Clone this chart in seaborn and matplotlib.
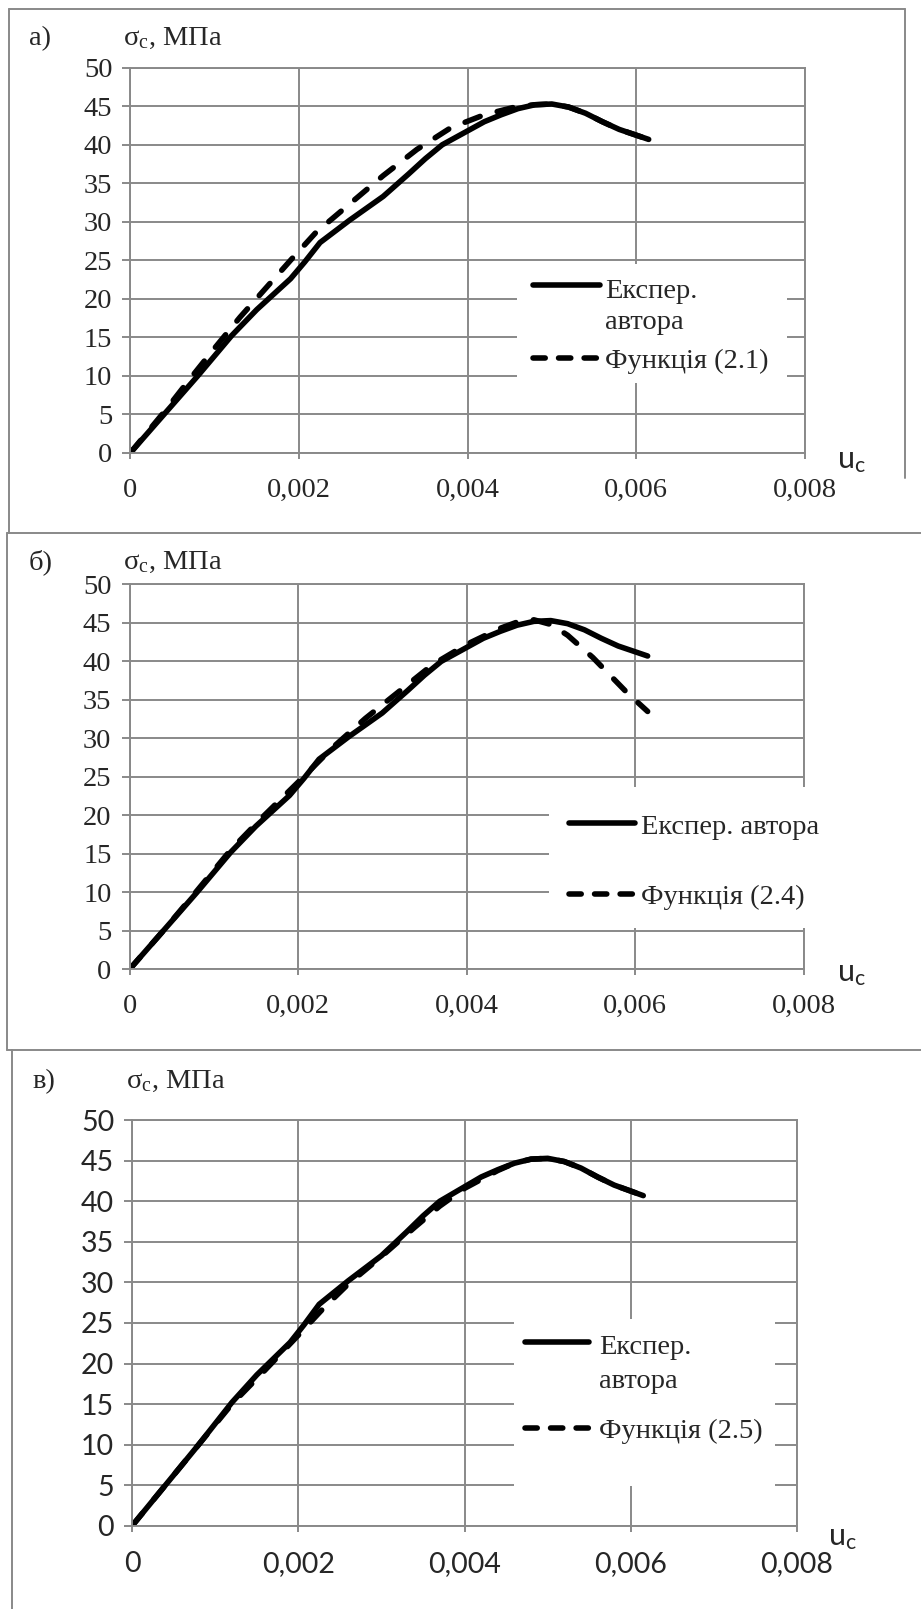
import matplotlib
matplotlib.use("Agg")
import matplotlib.pyplot as plt
from matplotlib.lines import Line2D
from matplotlib.patches import Rectangle
import seaborn as sns
import pandas as pd

sns.set_theme(style="white")
plt.rcParams['font.family'] = ['Liberation Serif', 'DejaVu Serif']

# Experimental stress-strain curve (same test in every panel)
strain_exp = [0, 0.0004, 0.0008, 0.0012, 0.0015, 0.0019, 0.00207, 0.00225, 0.0026, 0.0030,
              0.0033, 0.0035, 0.0037, 0.0040, 0.0042, 0.0044, 0.0046, 0.0048, 0.0050, 0.0052,
              0.0054, 0.0056, 0.0058, 0.00615]
stress_exp = [0, 5.0, 10.0, 15.2, 18.6, 22.6, 24.8, 27.3, 30.2, 33.3,
              36.2, 38.2, 40.0, 41.8, 43.0, 43.9, 44.7, 45.2, 45.3, 44.9,
              44.1, 43.0, 42.0, 40.7]

# Function (2.1)
strain_f21 = [0, 0.0004, 0.0007, 0.0010, 0.0013, 0.0016, 0.0019, 0.0022, 0.0026, 0.0030,
              0.0034, 0.0038, 0.0042, 0.0046, 0.0048, 0.0050, 0.0052, 0.0054, 0.0056, 0.0058,
              0.00615]
stress_f21 = [0, 5.3, 9.5, 13.6, 17.6, 21.3, 25.0, 28.6, 32.3, 36.0,
              39.4, 42.2, 43.9, 45.0, 45.2, 45.3, 44.9, 44.1, 43.0, 42.0,
              40.7]

# Function (2.4)
strain_f24 = [0, 0.0004, 0.0008, 0.0012, 0.0016, 0.0020, 0.0024, 0.0028, 0.0032, 0.0036,
              0.0040, 0.0044, 0.0046, 0.0048, 0.0050, 0.0052, 0.0055, 0.0059, 0.00615]
stress_f24 = [0, 5.0, 10.2, 15.5, 20.0, 24.3, 28.7, 32.6, 36.1, 39.6,
              42.2, 44.3, 45.1, 45.4, 44.8, 43.4, 40.5, 36.0, 33.5]

# Function (2.5)
strain_f25 = [0, 0.0004, 0.0008, 0.0012, 0.0016, 0.0020, 0.0023, 0.0026, 0.0030, 0.0034,
              0.0037, 0.0040, 0.0044, 0.0046, 0.0048, 0.0050, 0.0052, 0.0054, 0.0056, 0.0058,
              0.00615]
stress_f25 = [0, 5.0, 10.0, 15.0, 19.2, 23.5, 26.8, 29.8, 33.2, 36.8,
              39.4, 41.6, 43.8, 44.7, 45.2, 45.3, 44.9, 44.1, 43.0, 42.0,
              40.7]

x_ticks = [0, 0.002, 0.004, 0.006, 0.008]
x_tick_labels = ["0", "0,002", "0,004", "0,006", "0,008"]
y_ticks = [0, 5, 10, 15, 20, 25, 30, 35, 40, 45, 50]
y_tick_labels = [str(v) for v in y_ticks]

panel_letters = ["а)", "б)", "в)"]
func_labels = ["Функція (2.1)", "Функція (2.4)", "Функція (2.5)"]
exp_labels = [["Експер.", "автора"], ["Експер. автора"], ["Експер.", "автора"]]
y_title = r"$\mathregular{σ_c}$, МПа"
x_title = r"$\mathregular{u_c}$"

W, H = 921, 1609
fig = plt.figure(figsize=(W / 100, H / 100), dpi=100)
fig.patch.set_facecolor("white")

GRID = "#898989"
SERIF = ["Liberation Serif", "DejaVu Serif"]
SANS = ["Lato", "DejaVu Sans"]
FS = 20.5
LW = 4.0
DASH = (2.9, 3.2)
KEY_DASH = (2.2, 2.4)


def fx(px):
    return px / W


def fy(py):
    return 1 - py / H


def pline(x0, y0, x1, y1):
    fig.add_artist(Line2D([fx(x0), fx(x1)], [fy(y0), fy(y1)], color=GRID, lw=1.4,
                          transform=fig.transFigure))


# panel frames
pline(9, 9, 905, 9)
pline(9, 9, 9, 533)
pline(905, 9, 905, 478)
pline(7, 533, 921, 533)
pline(7, 533, 7, 1050)
pline(7, 1050, 921, 1050)
pline(12, 1050, 12, 1609)

panels = [
    dict(box=(130.4, 67.8, 804.6, 452.8), fun=(strain_f21, stress_f21), tickfont=SERIF,
         letter=(29, 45), ytitle=(123, 45), xtitle=(837, 468),
         lbox=(517, 264, 787, 383), handle=(533, 600), text_x=605,
         rows=[285, 358], exp_baselines=[298, 329], fun_baseline=368),
    dict(box=(129.5, 584.4, 803.5, 969.4), fun=(strain_f24, stress_f24), tickfont=SERIF,
         letter=(29, 569), ytitle=(123, 569), xtitle=(837, 981),
         lbox=(549, 787, 845, 928), handle=(569, 635), text_x=641,
         rows=[823, 893.6], exp_baselines=[833.5], fun_baseline=904),
    dict(box=(132.2, 1120.2, 797.0, 1525.7), fun=(strain_f25, stress_f25), tickfont=SANS,
         letter=(32, 1088), ytitle=(126, 1088), xtitle=(828, 1545),
         lbox=(514, 1319, 775, 1486), handle=(525, 589), text_x=599,
         rows=[1342, 1427.6], exp_baselines=[1354, 1387.5], fun_baseline=1438),
]

for i, p in enumerate(panels):
    l, t, r, b = p["box"]
    ax = fig.add_axes([fx(l), fy(b), (r - l) / W, (b - t) / H])
    ax.set_facecolor("white")

    df_exp = pd.DataFrame({"strain": strain_exp, "stress": stress_exp})
    df_fun = pd.DataFrame({"strain": p["fun"][0], "stress": p["fun"][1]})

    sns.lineplot(data=df_fun, x="strain", y="stress", ax=ax, color="black", lw=LW,
                 sort=False, estimator=None, legend=False)
    dash_line = ax.lines[-1]
    dash_line.set_dashes(DASH)
    dash_line.set_dash_capstyle("round")
    sns.lineplot(data=df_exp, x="strain", y="stress", ax=ax, color="black", lw=LW,
                 sort=False, estimator=None, legend=False)
    solid_line = ax.lines[-1]
    solid_line.set_solid_capstyle("round")
    solid_line.set_solid_joinstyle("round")

    ax.set_xlim(0, 0.008)
    ax.set_ylim(0, 50)
    ax.set_xticks(x_ticks)
    ax.set_xticklabels(x_tick_labels)
    ax.set_yticks(y_ticks)
    ax.set_yticklabels(y_tick_labels)
    ax.set_xlabel("")
    ax.set_ylabel("")
    ax.grid(True, color=GRID, lw=1.4)
    ax.set_axisbelow(True)
    for s in ax.spines.values():
        s.set_color(GRID)
        s.set_linewidth(1.4)
    ax.tick_params(axis="y", direction="out", length=6, width=1.4, color=GRID, pad=7,
                   labelsize=FS, left=True)
    ax.tick_params(axis="x", direction="out", length=4, width=1.4, color=GRID, pad=14,
                   labelsize=FS, bottom=True)
    for lab in ax.get_xticklabels() + ax.get_yticklabels():
        lab.set_family(p["tickfont"])

    # titles
    fig.text(fx(p["letter"][0]), fy(p["letter"][1]), panel_letters[i], family=SERIF,
             fontsize=FS, va="baseline", ha="left")
    fig.text(fx(p["ytitle"][0]), fy(p["ytitle"][1]), y_title, family=SERIF,
             fontsize=FS, va="baseline", ha="left")
    fig.text(fx(p["xtitle"][0]), fy(p["xtitle"][1]), x_title, family=SANS,
             fontsize=22, va="baseline", ha="left")

    # legend block
    bx0, by0, bx1, by1 = p["lbox"]
    fig.add_artist(Rectangle((fx(bx0), fy(by1)), (bx1 - bx0) / W, (by1 - by0) / H,
                             transform=fig.transFigure, facecolor="white",
                             edgecolor="none", zorder=5))
    hx0, hx1 = p["handle"]
    fig.add_artist(Line2D([fx(hx0), fx(hx1)], [fy(p["rows"][0])] * 2, color="black",
                          lw=LW, solid_capstyle="round", transform=fig.transFigure,
                          zorder=6))
    fig.add_artist(Line2D([fx(hx0), fx(hx1)], [fy(p["rows"][1])] * 2, color="black",
                          lw=LW, dashes=KEY_DASH, dash_capstyle="round",
                          transform=fig.transFigure, zorder=6))
    for line_text, base in zip(exp_labels[i], p["exp_baselines"]):
        fig.text(fx(p["text_x"]), fy(base), line_text, family=SERIF, fontsize=FS,
                 va="baseline", ha="left", zorder=7)
    fig.text(fx(p["text_x"]), fy(p["fun_baseline"]), func_labels[i], family=SERIF,
             fontsize=FS, va="baseline", ha="left", zorder=7)

fig.savefig("out.png", dpi=100, facecolor="white")
